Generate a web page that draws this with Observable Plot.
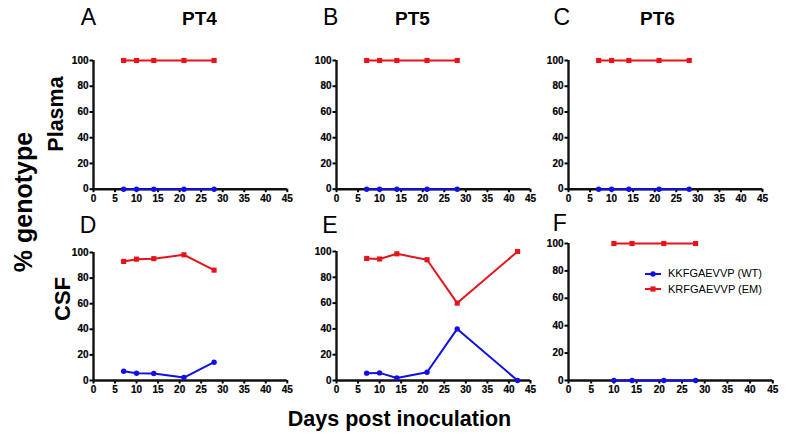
<!DOCTYPE html>
<html>
<head>
<meta charset="utf-8">
<script src="https://cdn.jsdelivr.net/npm/d3@7"></script>
<script src="https://cdn.jsdelivr.net/npm/@observablehq/plot@0.6"></script>
<style>
  html, body { margin: 0; padding: 0; background: #fff; }
  #root { position: relative; width: 785px; height: 441px; overflow: hidden; font-family: "Liberation Sans", Arial, sans-serif; color: #000; }
  .lbl { position: absolute; white-space: nowrap; line-height: 1; transform: translate(-50%, -50%); }
  .rot { transform: translate(-50%, -50%) rotate(-90deg); }
  .panel { position: absolute; }
  .panel text { font-weight: 700 !important; font-family: "Liberation Sans", Arial, sans-serif !important; stroke: #000; stroke-width: 0.2px; }
  .leg { position: absolute; font-size: 11px; display: flex; align-items: center; white-space: nowrap; line-height: 1; }
</style>
</head>
<body>
<div id="root"></div>
<script>
// ---------- data ----------
const seriesNames = ["KKFGAEVVP (WT)", "KRFGAEVVP (EM)"];
const seriesColors = ["#1010e6", "#e6141a"];

const pt4PlasmaDays = [7, 10, 14, 21, 28];
const pt4PlasmaWT = [0, 0, 0, 0, 0];
const pt4PlasmaEM = [100, 100, 100, 100, 100];

const pt5PlasmaDays = [7, 10, 14, 21, 28];
const pt5PlasmaWT = [0, 0, 0, 0, 0];
const pt5PlasmaEM = [100, 100, 100, 100, 100];

const pt6PlasmaDays = [7, 10, 14, 21, 28];
const pt6PlasmaWT = [0, 0, 0, 0, 0];
const pt6PlasmaEM = [100, 100, 100, 100, 100];

const pt4CsfDays = [7, 10, 14, 21, 28];
const pt4CsfWT = [7.2, 5.6, 5.5, 2.3, 14.3];
const pt4CsfEM = [93, 94.8, 95.2, 98.2, 86.2];

const pt5CsfDays = [7, 10, 14, 21, 28, 42];
const pt5CsfWT = [5.7, 5.9, 2, 6.4, 40, 0];
const pt5CsfEM = [94.6, 94.2, 98.2, 93.6, 60, 100];

const pt6CsfDays = [10, 14, 21, 28];
const pt6CsfWT = [0, 0, 0, 0];
const pt6CsfEM = [100, 100, 100, 100];

const xTicks = [0, 5, 10, 15, 20, 25, 30, 35, 40, 45];
const yTicks = [0, 20, 40, 60, 80, 100];

const panelLetters = ["A", "B", "C", "D", "E", "F"];
const patientTitles = ["PT4", "PT5", "PT6"];
const rowTitles = ["Plasma", "CSF"];
const yTitle = "% genotype";
const xTitle = "Days post inoculation";

// ---------- layout ----------
const root = document.getElementById("root");

function rows(days, vals) { return days.map((d, i) => ({day: d, value: vals[i]})); }

function makePanel(days, wt, em, box) {
  const ml = 30, mr = 12, mt = 8, mb = 24;
  const w = box.x45 - box.x0, h = box.y0 - box.y100;
  const wtRows = rows(days, wt), emRows = rows(days, em);
  const chart = Plot.plot({
    width: ml + w + mr,
    height: mt + h + mb,
    marginLeft: ml, marginRight: mr, marginTop: mt, marginBottom: mb,
    style: {fontFamily: "Liberation Sans, Arial, sans-serif", fontSize: "10px", fontWeight: "bold", background: "transparent", overflow: "visible"},
    x: {domain: [0, 45]},
    y: {domain: [0, 100]},
    marks: [
      Plot.axisX({ticks: xTicks, tickSize: 3.5, tickPadding: 2, strokeWidth: 2, label: null, fill: "#000"}),
      Plot.axisY({ticks: yTicks, tickSize: 3.5, tickPadding: 1.5, strokeWidth: 2, label: null, fill: "#000"}),
      Plot.ruleY([0], {stroke: "#111", strokeWidth: 2.4}),
      Plot.ruleX([0], {stroke: "#111", strokeWidth: 2.4}),
      Plot.line(wtRows, {x: "day", y: "value", stroke: seriesColors[0], strokeWidth: 2}),
      Plot.line(emRows, {x: "day", y: "value", stroke: seriesColors[1], strokeWidth: 2}),
      Plot.dot(wtRows, {x: "day", y: "value", symbol: "circle", r: 2.7, fill: seriesColors[0], stroke: "none"}),
      Plot.dot(emRows, {x: "day", y: "value", symbol: "square", r: 2.9, fill: seriesColors[1], stroke: "none"})
    ]
  });
  chart.classList.add("panel");
  chart.style.left = (box.x0 - ml) + "px";
  chart.style.top = (box.y100 - mt) + "px";
  root.appendChild(chart);
}

makePanel(pt4PlasmaDays, pt4PlasmaWT, pt4PlasmaEM, {x0: 92.7, x45: 286.5, y100: 60.3, y0: 189});
makePanel(pt5PlasmaDays, pt5PlasmaWT, pt5PlasmaEM, {x0: 336, x45: 530, y100: 60.3, y0: 189});
makePanel(pt6PlasmaDays, pt6PlasmaWT, pt6PlasmaEM, {x0: 567.7, x45: 761.7, y100: 60.3, y0: 189});
makePanel(pt4CsfDays, pt4CsfWT, pt4CsfEM, {x0: 92.7, x45: 286.5, y100: 252, y0: 380});
makePanel(pt5CsfDays, pt5CsfWT, pt5CsfEM, {x0: 336, x45: 530, y100: 251, y0: 380});
makePanel(pt6CsfDays, pt6CsfWT, pt6CsfEM, {x0: 567.7, x45: 772, y100: 243, y0: 380});

function label(text, x, y, size, weight, rotate) {
  const d = document.createElement("div");
  d.className = "lbl" + (rotate ? " rot" : "");
  d.textContent = text;
  d.style.left = x + "px";
  d.style.top = y + "px";
  d.style.fontSize = size + "px";
  d.style.fontWeight = weight;
  root.appendChild(d);
}

// panel letters
const letterPos = [[88.3, 16.7], [330.7, 16.7], [561.7, 16.7], [88, 224.5], [330, 224.5], [559.7, 223]];
panelLetters.forEach((t, i) => label(t, letterPos[i][0], letterPos[i][1], 23, "normal"));
// patient titles
const ptPos = [[199.5, 18], [412.5, 18], [657.5, 18]];
patientTitles.forEach((t, i) => label(t, ptPos[i][0], ptPos[i][1], 19, "bold"));
// row titles
label(rowTitles[0], 57.2, 114, 21.5, "bold", true);
label(rowTitles[1], 62.7, 298.5, 22, "bold", true);
// axis titles
label(yTitle, 22.6, 201.7, 25, "bold", true);
label(xTitle, 399.5, 420, 21.5, "bold");

// legend (inside panel F)
const legY = [273.5, 289.3];
seriesNames.forEach((name, i) => {
  const row = document.createElement("div");
  row.className = "leg";
  row.style.left = "644px";
  row.style.top = (legY[i] - 6) + "px";
  row.style.height = "12px";
  const sym = i === 0
    ? `<circle cx="9" cy="6" r="2.7" fill="${seriesColors[i]}"/>`
    : `<rect x="6.4" y="3.4" width="5.2" height="5.2" fill="${seriesColors[i]}"/>`;
  row.innerHTML = `<svg width="18" height="12" style="display:block"><line x1="1" x2="17" y1="6" y2="6" stroke="${seriesColors[i]}" stroke-width="2"/>${sym}</svg><span style="margin-left:6px">${name}</span>`;
  root.appendChild(row);
});
</script>
</body>
</html>
